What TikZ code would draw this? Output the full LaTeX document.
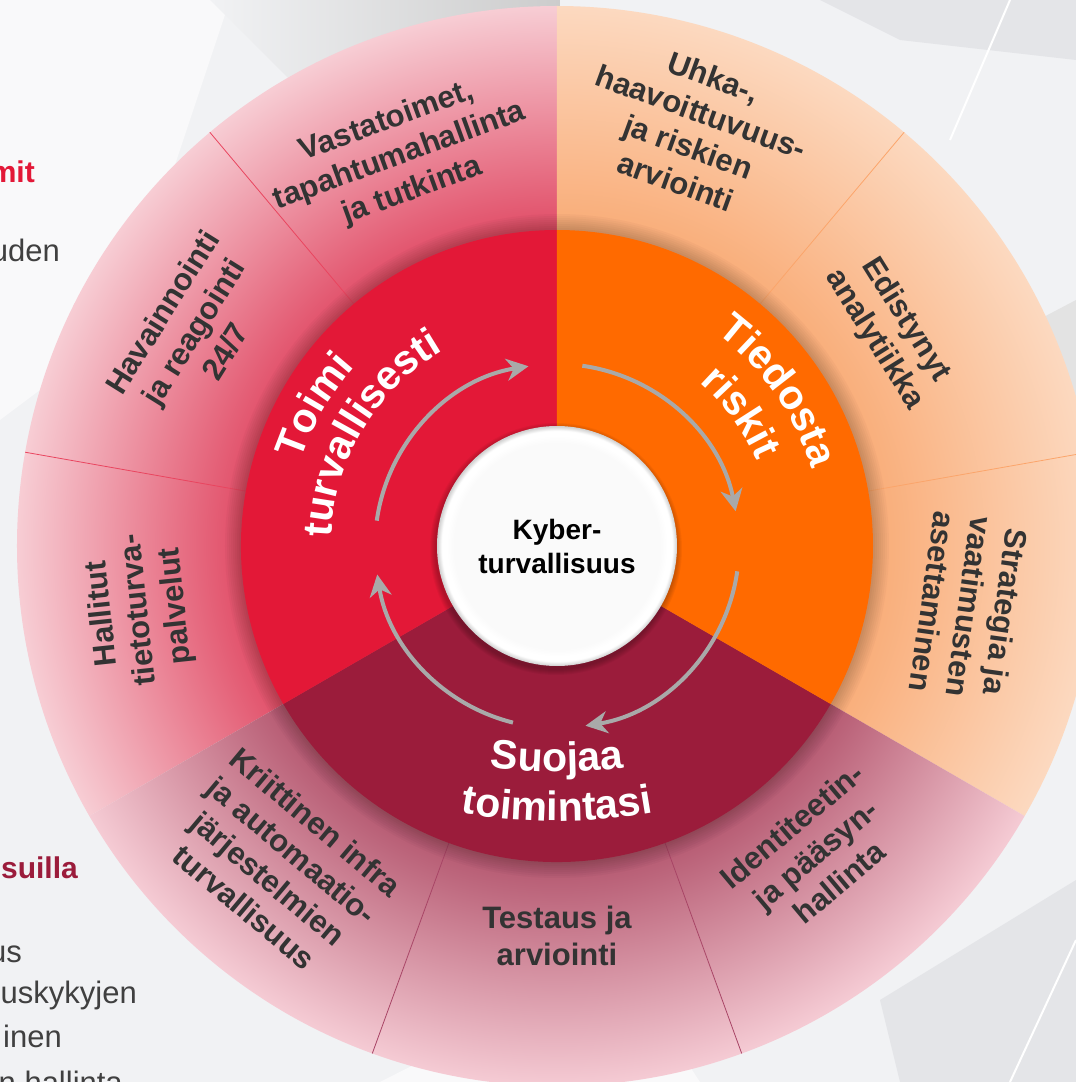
\documentclass[tikz,border=0pt]{standalone}
\usepackage{fontspec}
\setmainfont{Liberation Sans}
\usetikzlibrary{arrows.meta,decorations.text}

\definecolor{midred}{HTML}{E31837}
\definecolor{midorange}{HTML}{FF6A00}
\definecolor{middark}{HTML}{9B1C3B}
\definecolor{labelgrey}{HTML}{333333}
\definecolor{arrowgrey}{HTML}{A9A9A9}
\definecolor{bggrey}{HTML}{F1F2F4}
\definecolor{bgfacet}{HTML}{E4E5E8}
\definecolor{ringredin}{HTML}{E14D67}
\definecolor{ringredout}{HTML}{F7CDD4}
\definecolor{ringorangein}{HTML}{F9AC77}
\definecolor{ringorangeout}{HTML}{FCD9C0}
\definecolor{ringdarkin}{HTML}{B4576F}
\definecolor{ringdarkout}{HTML}{F5CBD4}
\definecolor{sepred}{HTML}{E9455F}
\definecolor{seporange}{HTML}{FBA56B}
\definecolor{sepdark}{HTML}{A84566}
\definecolor{hubfill}{HTML}{FAFAFA}
\definecolor{hubrim}{HTML}{CFCFCF}
\definecolor{fraggrey}{HTML}{404040}

\pgfdeclareradialshading{redring}{\pgfpoint{0bp}{0bp}}{color(0bp)=(ringredin); color(14.6bp)=(ringredin); color(25bp)=(ringredout); color(50bp)=(ringredout)}
\pgfdeclareradialshading{orangering}{\pgfpoint{0bp}{0bp}}{color(0bp)=(ringorangein); color(14.6bp)=(ringorangein); color(25bp)=(ringorangeout); color(50bp)=(ringorangeout)}
\pgfdeclareradialshading{darkring}{\pgfpoint{0bp}{0bp}}{color(0bp)=(ringdarkin); color(14.6bp)=(ringdarkin); color(25bp)=(ringdarkout); color(50bp)=(ringdarkout)}
\pgfdeclareradialshading{hubshade}{\pgfpoint{0bp}{0bp}}{color(0bp)=(hubfill); color(21.5bp)=(hubfill); color(23bp)=(white); color(24bp)=(white); color(25bp)=(hubrim); color(50bp)=(hubrim)}

\begin{document}
\begin{tikzpicture}[x=1pt, y=1pt,
    seglabel/.style={align=center, text=labelgrey, inner sep=0,
      font=\fontsize{31}{37}\selectfont\bfseries},
    fragtext/.style={anchor=base east, inner sep=0, font=\fontsize{31}{37}\selectfont},
    sepline/.style={line width=0.8pt},
    cycarrow/.style={arrowgrey, line width=4pt,
      -{Stealth[length=22pt, width=22pt, inset=7pt]}},
    midtext/.style={decorate, decoration={text along path, text align=center,
      text={|\color{white}\fontsize{41}{47}\selectfont\bfseries|#1}}}]
    \useasboundingbox (-557,-536) rectangle (519,546);
    \clip (-557,-536) rectangle (519,546);

    % background, in picture pixels
    \begin{scope}[shift={(-557,546)}, yscale=-1]
        \fill[bggrey] (0,0) rectangle (1076,1082);
        \fill[white!55!bggrey] (0,0) -- (230,0) -- (120,330) -- (0,420) -- cycle;
        \shade[left color=bggrey, right color=gray!40] (210,0) -- (560,0) -- (560,160) -- (300,90) -- cycle;
        \fill[bgfacet] (820,0) -- (1076,0) -- (1076,60) -- (900,40) -- cycle;
        \draw[white, line width=2pt] (1010,0) -- (950,140);
        \fill[gray!22] (1000,340) -- (1076,300) -- (1076,440) -- (1040,420) -- cycle;
        \fill[bgfacet] (880,1000) -- (1076,880) -- (1076,1082) -- (900,1082) -- cycle;
        \draw[white, line width=2pt] (1076,940) -- (1010,1082);
        \fill[white!55!bggrey] (380,1082) -- (620,960) -- (700,1082) -- cycle;
        \node[fragtext, text=midred, font=\fontsize{30}{36}\selectfont\bfseries] (fragmit) at (35,183) {mit};
        \node[fragtext, text=fraggrey] (fraguden) at (60,262) {uden};
        \node[fragtext, text=middark, font=\fontsize{30}{36}\selectfont\bfseries] (fragsuilla) at (78,878) {suilla};
        \node[fragtext, text=fraggrey] (fragus) at (22,962) {us};
        \node[fragtext, text=fraggrey] (fragkyky) at (137,1003) {uskykyjen};
        \node[fragtext, text=fraggrey] (fraginen) at (62,1047) {inen};
        \node[fragtext, text=fraggrey] (fraghall) at (123,1093) {n hallinta};
    \end{scope}

    % outer ring
    \foreach \a/\b/\shd in {90/210/redring, -30/90/orangering, 210/330/darkring}{
        \begin{scope}
            \clip (0,0) -- (\a:540) arc[start angle=\a, end angle=\b, radius=540] -- cycle;
            \shade[shading=\shd] (0,0) circle[radius=540];
        \end{scope}
    }
    \foreach \ang/\col in {130/sepred, 170/sepred, 50/seporange, 10/seporange, 250/sepdark, 290/sepdark}
        \draw[sepline, \col] (\ang:316) -- (\ang:540);

    \node[seglabel, rotate=-20] (uhka) at (71.7:439) {Uhka-,\\haavoittuvuus-\\ja riskien\\arviointi};
    \node[seglabel, rotate=-58] (edist) at (33:397) {Edistynyt\\analytiikka};
    \node[seglabel, rotate=-98] (strat) at (-8.4:417) {Strategia ja\\vaatimusten\\asettaminen};
    \node[seglabel, rotate=20] (vasta) at (112:420) {Vastatoimet,\\tapahtumahallinta\\ja tutkinta};
    \node[seglabel, rotate=58] (havain) at (149.5:422) {Havainnointi\\ja reagointi\\24/7};
    \node[seglabel, rotate=96] (hallit) at (188.7:422) {Hallitut\\tietoturva-\\palvelut};
    \node[seglabel, rotate=-40] (kriit) at (229:422) {Kriittinen infra\\ja automaatio-\\järjestelmien\\turvallisuus};
    \node[seglabel] (testaus) at (270:390) {Testaus ja\\arviointi};
    \node[seglabel, rotate=40] (ident) at (310:402) {Identiteetin-\\ja pääsyn-\\hallinta};

    % shadow under the middle ring
    \foreach \k in {1,...,8}
        \fill[black, opacity=0.025] (0,0) circle[radius=316+2*\k];

    % middle ring
    \fill[middark] (0,0) -- (-30:316) arc[start angle=-30, end angle=-150, radius=316] -- cycle;
    \fill[midred] (0,0) -- (210:316) arc[start angle=210, end angle=90, radius=316] -- cycle;
    \fill[midorange] (0,0) -- (90:316) arc[start angle=90, end angle=-30, radius=316] -- cycle;

    \path[midtext=Toimi] (200:270) arc[start angle=200, end angle=100, radius=270];
    \path[midtext=turvallisesti] (200:226) arc[start angle=200, end angle=98, radius=226];
    \path[midtext=Tiedosta] (85:266) arc[start angle=85, end angle=-15, radius=266];
    \path[midtext=riskit] (86:217) arc[start angle=86, end angle=-14, radius=217];
    \begin{scope}[shift={(0,289)}]
        \path[midtext=Suojaa] (250:515) arc[start angle=250, end angle=290, radius=515];
        \path[midtext=toimintasi] (250:564) arc[start angle=250, end angle=290, radius=564];
    \end{scope}

    % cycle arrows
    \foreach \s/\e in {172/99, 82/11, -8/-81, 256/189}
        \draw[cycarrow] (\s:182) arc[start angle=\s, end angle=\e, radius=182];

    % hub
    \foreach \k in {1,...,6}
        \fill[black, opacity=0.04] (-1,-3) circle[radius=120+\k];
    \shade[shading=hubshade] (0,0) circle[radius=120];
    \node[align=center, font=\fontsize{28}{34}\selectfont\bfseries] (hub) at (0,0) {Kyber-\\turvallisuus};
\end{tikzpicture}
\end{document}
